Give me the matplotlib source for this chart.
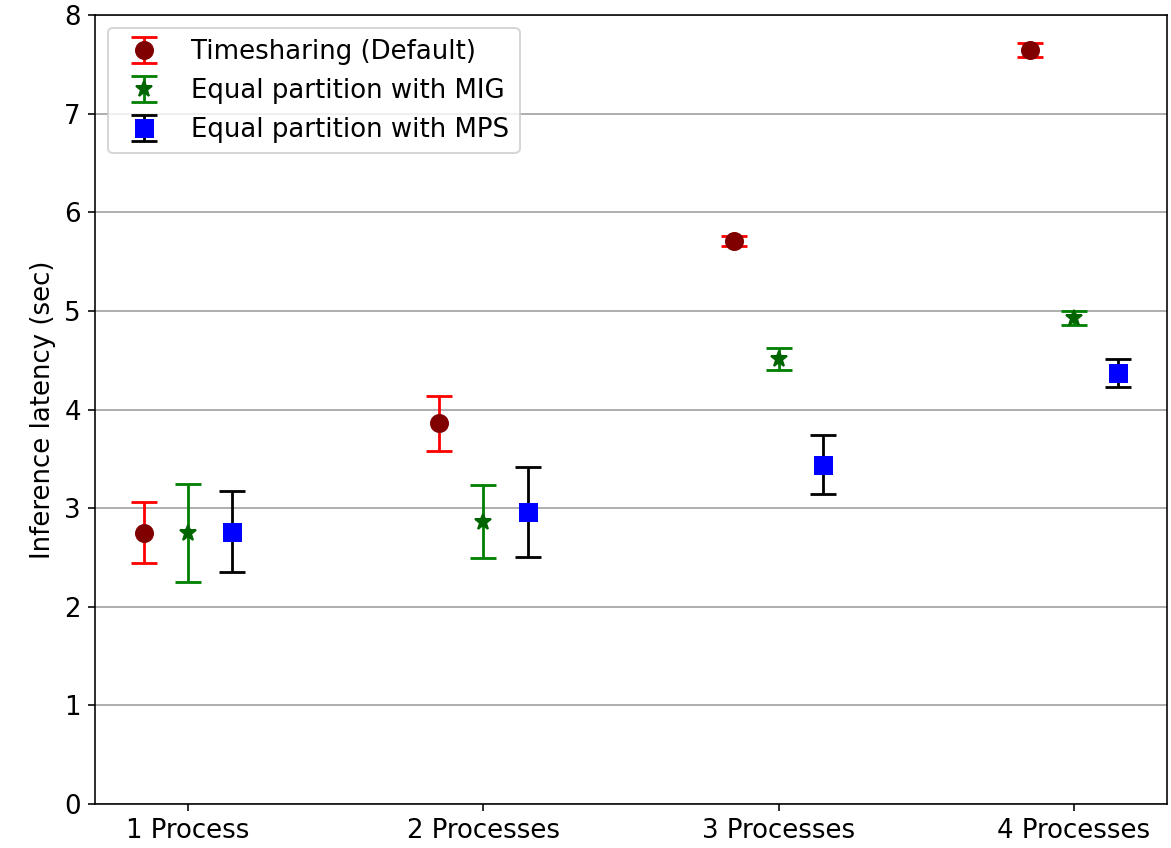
import numpy as np
import matplotlib
matplotlib.use('Agg')
import matplotlib.pyplot as plt

labels = ['1 Process', '2 Processes', '3 Processes', '4 Processes']

ts_mean = [2.75, 3.86, 5.71, 7.65]
ts_err = [0.31, 0.28, 0.05, 0.07]

mig_mean = [2.75, 2.86, 4.51, 4.93]
mig_err = [0.50, 0.37, 0.11, 0.075]

mps_mean = [2.76, 2.96, 3.44, 4.37]
mps_err = [0.41, 0.46, 0.30, 0.14]

x = np.arange(len(labels))
w = 0.15

plt.rcParams['font.size'] = 13

fig, ax = plt.subplots(figsize=(1171 / 144, 848 / 144), dpi=144)
fig.subplots_adjust(left=0.081, right=0.9966, top=0.982, bottom=0.052)

ax.errorbar(x - w, ts_mean, yerr=ts_err, fmt='o', color='maroon', ecolor='red',
            markersize=8.5, capsize=6.5, elinewidth=1.4, capthick=1.4,
            label='Timesharing (Default)')
ax.errorbar(x, mig_mean, yerr=mig_err, fmt='*', color='darkgreen', ecolor='green',
            markersize=8.5, capsize=6.5, elinewidth=1.4, capthick=1.4,
            label='Equal partition with MIG')
ax.errorbar(x + w, mps_mean, yerr=mps_err, fmt='s', color='blue', ecolor='black',
            markersize=8.5, capsize=6.5, elinewidth=1.4, capthick=1.4,
            label='Equal partition with MPS')

ax.set_xticks(x)
ax.set_xticklabels(labels)
ax.set_ylim(0, 8)
ax.set_ylabel('Inference latency (sec)')
ax.yaxis.grid(True, color='#b0b0b0', linewidth=1.0)
ax.set_axisbelow(True)
ax.legend(loc='upper left')

fig.savefig('out.png', dpi=144)
